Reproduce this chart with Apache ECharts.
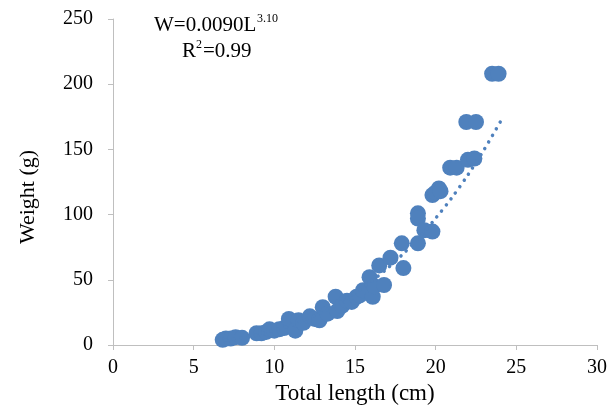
<!DOCTYPE html>
<html>
<head>
<meta charset="utf-8">
<script src="https://cdn.jsdelivr.net/npm/echarts@6/dist/echarts.min.js"></script>
<style>
  html, body { margin: 0; padding: 0; background: #fff; }
  #chart { width: 615px; height: 405px; }
</style>
</head>
<body>
<div id="chart"></div>
<script>
// total length (cm) and weight (g) of each fish
const lengths = [
  6.8, 7.0, 7.3, 7.6, 8.0, 8.9, 9.2, 9.5, 9.7, 10.0, 10.3, 10.6, 10.9, 11.3, 11.5,
  11.8, 12.2, 12.5, 12.8, 13.0, 13.3, 13.8, 13.9, 14.2, 14.5, 14.8, 15.1, 15.3, 15.5,
  15.9, 16.1, 16.2, 16.5, 16.8, 17.2, 17.9, 18.0, 18.9, 18.9, 18.9, 19.3, 19.8, 19.8,
  20.0, 20.2, 20.3, 20.9, 21.3, 22.0, 22.4, 21.9, 22.5, 23.5, 23.9
]
const weights = [
  4, 5, 5, 6, 5.5, 9, 9, 10, 12, 11, 12, 13, 20, 11, 19,
  17, 22, 20, 19, 29, 24, 37, 26, 30, 34, 33, 37, 38, 42,
  52, 37, 45, 61, 46, 67, 78, 59, 78, 101, 97, 88, 87, 115,
  117, 120, 118, 136, 136, 142, 143, 171, 171, 208, 208
]

// power trendline W = 0.0090 L^3.10, as drawn
const trendX = [7, 8, 9, 10, 11, 12, 13, 14, 15, 16, 17, 18, 19, 20, 21, 22, 23, 24]
const trendY = [3.8, 5.7, 8.2, 11.3, 15.2, 19.9, 25.5, 32.1, 39.8, 48.6, 58.7, 70.1, 82.8, 97.2, 112.9, 130.5, 149.8, 171]

const xTicks = [0, 5, 10, 15, 20, 25, 30]
const yTicks = [0, 50, 100, 150, 200, 250]

const blue = '#4f81bd'
const axisGray = '#bfbfbf'
const font = 'Liberation Serif'

const chart = echarts.init(document.getElementById('chart'), null, { renderer: 'canvas' })

const option = {
  animation: false,
  backgroundColor: '#fff',
  grid: { left: 113, right: 18, top: 19, bottom: 60, containLabel: false, outerBoundsMode: 'none' },
  xAxis: {
    type: 'value',
    min: xTicks[0],
    max: xTicks[xTicks.length - 1],
    interval: 5,
    name: 'Total length (cm)',
    nameLocation: 'middle',
    nameGap: 34,
    nameTextStyle: { fontFamily: font, fontSize: 23, color: '#000' },
    splitLine: { show: false },
    axisLine: { show: true, lineStyle: { color: axisGray, width: 1 } },
    axisTick: { show: true, length: 5, lineStyle: { color: axisGray } },
    axisLabel: { fontFamily: font, fontSize: 20, color: '#000', margin: 13 }
  },
  yAxis: {
    type: 'value',
    min: yTicks[0],
    max: yTicks[yTicks.length - 1],
    interval: 50,
    name: 'Weight (g)',
    nameLocation: 'middle',
    nameGap: 74,
    nameTextStyle: { fontFamily: font, fontSize: 22, color: '#000', padding: [0, 30, 0, 0] },
    splitLine: { show: false },
    axisLine: { show: true, lineStyle: { color: axisGray, width: 1 } },
    axisTick: { show: true, length: 5, lineStyle: { color: axisGray } },
    axisLabel: { fontFamily: font, fontSize: 20, color: '#000', margin: 20 }
  },
  series: [
    {
      type: 'scatter',
      data: lengths.map((l, i) => [l, weights[i]]),
      symbol: 'circle',
      symbolSize: 16,
      itemStyle: { color: blue, opacity: 1 },
      z: 2
    },
    {
      type: 'line',
      data: trendX.map((l, i) => [l, trendY[i]]),
      showSymbol: false,
      smooth: 0.3,
      lineStyle: { color: blue, width: 3.5, type: [0.1, 7.5], cap: 'round' },
      z: 3
    }
  ],
  graphic: [
    {
      type: 'text', left: 154, top: 15,
      style: { text: 'W=0.0090L', font: '21px "Liberation Serif"', fill: '#000' }
    },
    {
      type: 'text', left: 257, top: 13,
      style: { text: '3.10', font: '12px "Liberation Serif"', fill: '#000' }
    },
    {
      type: 'text', left: 182, top: 41,
      style: { text: 'R', font: '21px "Liberation Serif"', fill: '#000' }
    },
    {
      type: 'text', left: 196, top: 39,
      style: { text: '2', font: '12px "Liberation Serif"', fill: '#000' }
    },
    {
      type: 'text', left: 203, top: 41,
      style: { text: '=0.99', font: '21px "Liberation Serif"', fill: '#000' }
    }
  ]
}

chart.setOption(option)
</script>
</body>
</html>
